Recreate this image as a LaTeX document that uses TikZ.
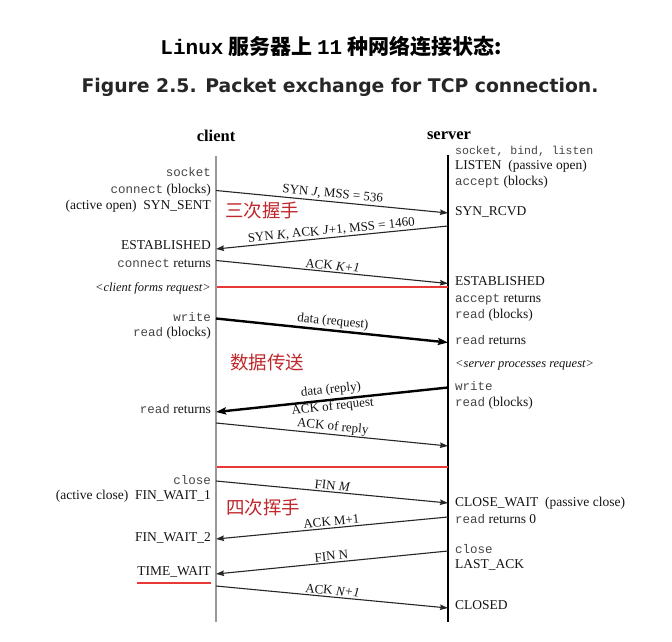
\documentclass[tikz,border=0pt]{standalone}
\usepackage{fontspec}
\setmainfont{Liberation Serif}
\newfontfamily\monof{Liberation Mono}
\newfontfamily\cjkf{Noto Sans CJK SC}
\newfontfamily\figf{DejaVu Sans}
\usetikzlibrary{arrows.meta}
\definecolor{monogray}{HTML}{454545}
\definecolor{txt}{HTML}{141414}
\definecolor{cnred}{HTML}{C0282D}
\definecolor{linered}{HTML}{E83838}
\newcommand{\mt}[1]{{\monof\fontsize{12.5}{14}\selectfont\color{monogray}#1}}
\begin{document}
\begin{tikzpicture}[x=1pt,y=-1pt,
  lab/.style={font=\fontsize{13.5}{15}\selectfont, text=txt, inner sep=0pt, text height=9pt, text depth=2.5pt},
  llab/.style={lab, anchor=east},
  rlab/.style={lab, anchor=west},
  itlab/.style={font=\itshape\fontsize{12.5}{14}\selectfont},
  msg/.style={draw=black!85, line width=1.1pt, -{Stealth[length=8pt,width=5.5pt,inset=1pt]}},
  datamsg/.style={draw=black, line width=2.4pt, -{Stealth[length=10pt,width=7pt,inset=1.5pt]}},
  mlab/.style={font=\fontsize{13}{15}\selectfont, text=txt, sloped, inner sep=1.5pt},
  cn/.style={font=\cjkf\fontsize{18.5}{21}\selectfont, text=cnred, anchor=west, inner sep=0pt, text height=14pt, text depth=0.5pt}
]
\fill[white] (0,0) rectangle (672,642);
\useasboundingbox (0,0) rectangle (672,642);

% titles
\node (t1) at (331,47) {\cjkf\bfseries\fontsize{21}{24}\selectfont {\monof Linux} 服务器上 {\monof 11} 种网络连接状态:};
\node[text=black!85] (t2) at (340,87) {\figf\bfseries\fontsize{18.8}{22}\selectfont Figure 2.5. Packet exchange for TCP connection.};

% headers
\node[font=\bfseries\fontsize{16.5}{18}\selectfont] (client) at (216,136) {client};
\node[font=\bfseries\fontsize{16.5}{18}\selectfont] (server) at (449,136) {server};

% timelines
\coordinate (ctop) at (216,156); \coordinate (cbot) at (216,622);
\coordinate (stop) at (448,155); \coordinate (sbot) at (448,622);
\draw[draw=black!40, line width=2pt] (ctop) -- (cbot);
\draw[black, line width=1.5pt] (stop) -- (sbot);

% left labels
\node[llab] (l1) at (211,173) {\mt{socket}};
\node[llab] (l2) at (211,190) {\mt{connect} (blocks)};
\node[llab] (l3) at (211,206) {(active open)\enspace SYN\_SENT};
\node[llab] (l4) at (211,246.5) {ESTABLISHED};
\node[llab] (l5) at (211,264) {\mt{connect} returns};
\node[llab, itlab] (l6) at (211,288) {<client forms request>};
\node[llab] (l7) at (211,318) {\mt{write}};
\node[llab] (l8) at (211,333.5) {\mt{read} (blocks)};
\node[llab] (l9) at (211,410.5) {\mt{read} returns};
\node[llab] (l10) at (211,481) {\mt{close}};
\node[llab] (l11) at (211,496.5) {(active close)\enspace FIN\_WAIT\_1};
\node[llab] (l12) at (211,538) {FIN\_WAIT\_2};
\node[llab] (l13) at (211,572.5) {TIME\_WAIT};

% right labels
\node[rlab] (r1) at (455,151.5) {{\monof\fontsize{11.5}{13}\selectfont\color{monogray}socket, bind, listen}};
\node[rlab] (r2) at (455,166.5) {LISTEN\enspace(passive open)};
\node[rlab] (r3) at (455,182.5) {\mt{accept} (blocks)};
\node[rlab] (r4) at (455,212.5) {SYN\_RCVD};
\node[rlab] (r5) at (455,282.5) {ESTABLISHED};
\node[rlab] (r6) at (455,299) {\mt{accept} returns};
\node[rlab] (r7) at (455,315) {\mt{read} (blocks)};
\node[rlab] (r8) at (455,341) {\mt{read} returns};
\node[rlab, itlab] (r9) at (455,364) {<server processes request>};
\node[rlab] (r10) at (455,387.5) {\mt{write}};
\node[rlab] (r11) at (455,403.5) {\mt{read} (blocks)};
\node[rlab] (r12) at (455,503) {CLOSE\_WAIT\enspace(passive close)};
\node[rlab] (r13) at (455,520) {\mt{read} returns 0};
\node[rlab] (r14) at (455,550) {\mt{close}};
\node[rlab] (r15) at (455,565.5) {LAST\_ACK};
\node[rlab] (r16) at (455,606.5) {CLOSED};

% red rules: phase separators and TIME_WAIT underline
\coordinate (s1a) at (217,287); \coordinate (s1b) at (448,287);
\coordinate (s2a) at (217,467); \coordinate (s2b) at (448,467);
\fill[linered] ([yshift=0.6pt]s1a) rectangle ([yshift=-0.6pt]s1b);
\fill[linered] ([yshift=0.6pt]s2a) rectangle ([yshift=-0.6pt]s2b);
\coordinate (u1) at (l13.west |- 0,582);
\coordinate (u2) at (l13.east |- 0,584.2);
\fill[linered] (u1) rectangle (u2);

% messages
\coordinate (a1s) at (216,190.5); \coordinate (a1e) at (448,213);
\coordinate (a2s) at (448,226); \coordinate (a2e) at (216,249);
\coordinate (a3s) at (216,260.5); \coordinate (a3e) at (448,283.5);
\coordinate (a4s) at (216,318.5); \coordinate (a4e) at (448,342.5);
\coordinate (a5s) at (448,387.5); \coordinate (a5e) at (216,412);
\coordinate (a6s) at (216,423); \coordinate (a6e) at (448,446);
\coordinate (a7s) at (216,481); \coordinate (a7e) at (448,503);
\coordinate (a8s) at (448,517); \coordinate (a8e) at (216,539);
\coordinate (a9s) at (448,551); \coordinate (a9e) at (216,574);
\coordinate (a10s) at (216,586); \coordinate (a10e) at (448,608);

\draw[msg] (a1s) -- node[mlab, above] (m1) {SYN \textit{J}, MSS = 536} (a1e);
\draw[msg] (a2s) -- node[mlab, above, inner sep=1pt] (m2) {SYN \textit{K}, ACK \textit{J}+1, MSS = 1460} (a2e);
\draw[msg] (a3s) -- node[mlab, above] (m3) {ACK \textit{K+1}} (a3e);
\draw[datamsg] (a4s) -- node[mlab, above] (m4) {data (request)} (a4e);
\draw[datamsg] (a5s) -- node[mlab, above, inner sep=2.5pt] (m5) {data (reply)} node[mlab, below, inner sep=0pt] (m5b) {ACK of request} (a5e);
\draw[msg] (a6s) -- node[mlab, above, inner sep=1pt] (m6) {ACK of reply} (a6e);
\draw[msg] (a7s) -- node[mlab, above] (m7) {FIN \textit{M}} (a7e);
\draw[msg] (a8s) -- node[mlab, above] (m8) {ACK M+1} (a8e);
\draw[msg] (a9s) -- node[mlab, above] (m9) {FIN N} (a9e);
\draw[msg] (a10s) -- node[mlab, above] (m10) {ACK \textit{N+1}} (a10e);

% phase labels
\node[cn] (p1) at (225,211) {三次握手};
\node[cn] (p2) at (230,363) {数据传送};
\node[cn] (p3) at (226,508) {四次挥手};
\end{tikzpicture}
\end{document}
